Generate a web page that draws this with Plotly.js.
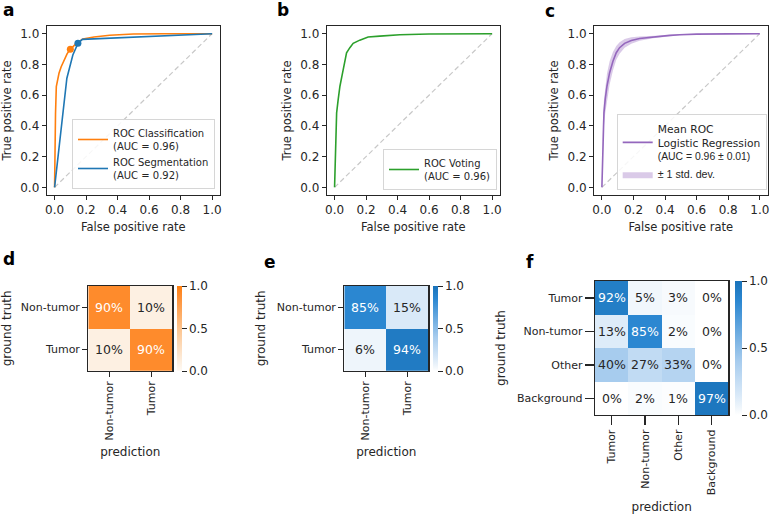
<!DOCTYPE html>
<html>
<head>
<meta charset="utf-8">
<script src="https://cdn.plot.ly/plotly-3.0.1.min.js"></script>
<style>
  html, body { margin: 0; padding: 0; background: #fff; }
  #fig { width: 777px; height: 515px; }
</style>
</head>
<body>
<div id="fig"></div>
<script>
// ROC curves
const clsFpr = [0, 0.003, 0.006, 0.011, 0.02, 0.028, 0.042, 0.064, 0.08, 0.1, 0.12, 0.138, 0.18, 0.25, 0.35, 0.5, 0.7, 1.0];
const clsTpr = [0, 0.35, 0.48, 0.655, 0.71, 0.742, 0.785, 0.84, 0.87, 0.898, 0.92, 0.937, 0.966, 0.978, 0.99, 0.998, 1.0, 1.0];
const segFpr = [0, 0.078, 0.116, 0.148, 0.176, 1.0];
const segTpr = [0, 0.71, 0.861, 0.937, 0.963, 1.0];
const clsPoint = [0.1, 0.898];
const segPoint = [0.148, 0.937];

const voteFpr = [0, 0.002, 0.004, 0.006, 0.013, 0.023, 0.034, 0.051, 0.065, 0.076, 0.097, 0.118, 0.16, 0.213, 0.287, 0.414, 0.6, 0.8, 1];
const voteTpr = [0, 0.08, 0.18, 0.355, 0.485, 0.572, 0.658, 0.746, 0.81, 0.876, 0.909, 0.937, 0.958, 0.978, 0.984, 0.993, 0.998, 1, 1];

const lrFpr   = [0, 0.004, 0.007, 0.013, 0.021, 0.032, 0.049, 0.07, 0.091, 0.112, 0.144, 0.186, 0.239, 0.324, 0.429, 0.493, 0.6, 0.8, 1];
const lrTpr   = [0, 0.224, 0.376, 0.485, 0.572, 0.658, 0.746, 0.821, 0.876, 0.909, 0.937, 0.956, 0.969, 0.98, 0.989, 0.993, 0.997, 0.999, 1];
const lrUpper = [0, 0.30, 0.46, 0.57, 0.66, 0.74, 0.82, 0.88, 0.92, 0.945, 0.965, 0.977, 0.982, 0.987, 0.992, 0.995, 0.998, 0.999, 1];
const lrLower = [0, 0.15, 0.29, 0.40, 0.48, 0.57, 0.67, 0.76, 0.83, 0.87, 0.908, 0.934, 0.954, 0.971, 0.985, 0.990, 0.996, 0.998, 1];

const chance = [0, 1];
const rocTicks = [0, 0.2, 0.4, 0.6, 0.8, 1.0];

// confusion matrices
const binLabels = ["Non-tumor", "Tumor"];
const cmClassification = [[0.90, 0.10], [0.10, 0.90]];
const cmVoting = [[0.85, 0.15], [0.06, 0.94]];
const multiLabels = ["Tumor", "Non-tumor", "Other", "Background"];
const cmMulti = [
  [0.92, 0.05, 0.03, 0.00],
  [0.13, 0.85, 0.02, 0.00],
  [0.40, 0.27, 0.33, 0.00],
  [0.00, 0.02, 0.01, 0.97]
];
const cbTicks = [0, 0.5, 1];
const cbText = ["0.0", "0.5", "1.0"];

const W = 777, H = 515;
const FONT = "DejaVu Sans";
const INK = "#262626";
const px = (a, b) => [a / W, b / W];
const py = (top, bottom) => [1 - bottom / H, 1 - top / H];

const orangeScale = [[0, "#fffaf4"], [0.1, "#fdf0e2"], [0.5, "#fdc48e"], [0.9, "#fe8b2c"], [1, "#ff7f0e"]];
const blueScale = [[0, "#ffffff"], [0.06, "#eef5fb"], [0.15, "#d9e9f8"], [0.4, "#a7ccee"], [0.85, "#2b87d1"], [1, "#1a73ba"]];

function rocAxes(domX) {
  const common = {
    range: [-0.05, 1.05], tickvals: rocTicks, tickformat: ".1f",
    showline: true, mirror: true, linecolor: INK, linewidth: 1,
    ticks: "outside", ticklen: 4, tickwidth: 1, tickcolor: INK,
    showgrid: false, zeroline: false,
    tickfont: { family: FONT, size: 12, color: INK }
  };
  return {
    x: Object.assign({}, common, {
      domain: domX,
      title: { text: "False positive rate", font: { family: FONT, size: 11.5, color: INK }, standoff: 6 }
    }),
    y: Object.assign({}, common, {
      domain: py(26, 195),
      title: { text: "True positive rate", font: { family: FONT, size: 11.5, color: INK }, standoff: 6 }
    })
  };
}

function cmAxes(domX, domY, labels) {
  const common = {
    showline: true, mirror: true, linecolor: INK, linewidth: 1.2,
    ticks: "outside", ticklen: 5, tickwidth: 1, tickcolor: INK,
    showgrid: false, zeroline: false,
    tickfont: { family: FONT, size: 11, color: INK }
  };
  return {
    x: Object.assign({}, common, {
      domain: domX, tickangle: -90, categoryorder: "array", categoryarray: labels,
      title: { text: "prediction", font: { family: FONT, size: 12, color: INK }, standoff: 8 }
    }),
    y: Object.assign({}, common, {
      domain: domY, autorange: "reversed", categoryorder: "array", categoryarray: labels,
      title: { text: "ground truth", font: { family: FONT, size: 12, color: INK }, standoff: 8 }
    })
  };
}

function colorbar(xLeft, topPx, lenPx, thick) {
  return {
    x: xLeft / W, xanchor: "left", xpad: 0,
    y: 1 - topPx / H, yanchor: "top", ypad: 0,
    len: lenPx, lenmode: "pixels", thickness: thick, thicknessmode: "pixels",
    outlinewidth: 0, ticks: "outside", ticklen: 5, tickwidth: 1, tickcolor: INK,
    tickvals: cbTicks, ticktext: cbText,
    tickfont: { family: FONT, size: 12, color: INK }
  };
}

const traces = [];
const annotations = [];

function diag(xa, ya) {
  traces.push({
    x: chance, y: chance, xaxis: xa, yaxis: ya, mode: "lines", showlegend: false, hoverinfo: "skip",
    line: { color: "#c8c8c8", width: 1.2, dash: "5px,3px" }
  });
}

// panel a
diag("x", "y");
traces.push({ x: clsFpr, y: clsTpr, xaxis: "x", yaxis: "y", mode: "lines", legend: "legend",
  name: "ROC Classification<br>(AUC = 0.96)", line: { color: "#ff7f0e", width: 1.6 } });
traces.push({ x: segFpr, y: segTpr, xaxis: "x", yaxis: "y", mode: "lines", legend: "legend",
  name: "ROC Segmentation<br>(AUC = 0.92)", line: { color: "#1f77b4", width: 1.6 } });
traces.push({ x: [clsPoint[0]], y: [clsPoint[1]], xaxis: "x", yaxis: "y", mode: "markers", showlegend: false,
  marker: { color: "#ff7f0e", size: 7 } });
traces.push({ x: [segPoint[0]], y: [segPoint[1]], xaxis: "x", yaxis: "y", mode: "markers", showlegend: false,
  marker: { color: "#1f77b4", size: 7 } });

// panel b
diag("x2", "y2");
traces.push({ x: voteFpr, y: voteTpr, xaxis: "x2", yaxis: "y2", mode: "lines", legend: "legend2",
  name: "ROC Voting<br>(AUC = 0.96)", line: { color: "#2ca02c", width: 1.6 } });

// panel c
diag("x3", "y3");
traces.push({ x: lrFpr, y: lrLower, xaxis: "x3", yaxis: "y3", mode: "lines", showlegend: false,
  line: { width: 0, color: "rgba(148,103,189,0)" }, hoverinfo: "skip" });
traces.push({ x: lrFpr, y: lrUpper, xaxis: "x3", yaxis: "y3", mode: "lines", fill: "tonexty",
  fillcolor: "rgba(148,103,189,0.35)", line: { width: 0, color: "rgba(148,103,189,0)" },
  legend: "legend3", legendrank: 2,
  name: "<span style='font-family:Liberation Sans'>± 1 std. dev.</span>" });
traces.push({ x: lrFpr, y: lrTpr, xaxis: "x3", yaxis: "y3", mode: "lines", legend: "legend3", legendrank: 1,
  name: "Mean ROC<br>Logistic Regression<br><span style='font-family:Liberation Sans;font-size:10.4px'>(AUC = 0.96 ± 0.01)</span>",
  line: { color: "#9467bd", width: 1.6 } });

// confusion matrices
function cm(z, labels, xa, ya, scale, cb) {
  traces.push({ type: "heatmap", z: z, x: labels, y: labels, xaxis: xa, yaxis: ya,
    zmin: 0, zmax: 1, colorscale: scale, colorbar: cb, xgap: 0, ygap: 0, hoverinfo: "skip" });
  z.forEach((row, i) => row.forEach((v, j) => {
    annotations.push({ x: labels[j], y: labels[i], xref: xa, yref: ya, showarrow: false,
      text: Math.round(v * 100) + "%",
      font: { family: FONT, size: 12.5, color: v > 0.5 ? "#ffffff" : INK } });
  }));
}
cm(cmClassification, binLabels, "x4", "y4", orangeScale, colorbar(176.7, 286, 84.7, 5));
cm(cmVoting, binLabels, "x5", "y5", blueScale, colorbar(432.7, 286, 84.7, 5));
cm(cmMulti, multiLabels, "x6", "y6", blueScale, colorbar(735, 281, 134, 6.5));

// panel letters
[["a", 8, 10], ["b", 283, 10], ["c", 550, 11], ["d", 9, 259], ["e", 270, 262], ["f", 530, 262]].forEach(l => {
  annotations.push({ text: "<b>" + l[0] + "</b>", x: l[1] / W, y: 1 - l[2] / H, xref: "paper", yref: "paper",
    showarrow: false, xanchor: "center", yanchor: "middle",
    font: { family: FONT, size: 17, color: "#000" } });
});

const A = rocAxes(px(46.7, 220)), B = rocAxes(px(326.7, 500)), C = rocAxes(px(594, 767.7));
const D = cmAxes(px(88.3, 172.3), py(286, 370.7), binLabels);
const E = cmAxes(px(344.3, 428.3), py(286, 370.7), binLabels);
const F = cmAxes(px(595, 728.3), py(281, 415), multiLabels);
F.x.ticklen = 9; F.y.ticklen = 9; F.x.tickwidth = 1.5; F.y.tickwidth = 1.5;

const legendStyle = (xr, yb, size) => ({
  x: xr / W, xanchor: "right", y: 1 - yb / H, yanchor: "bottom",
  bgcolor: "rgba(255,255,255,0.85)", bordercolor: "#d6d6d6", borderwidth: 1,
  font: { family: FONT, size: size, color: INK }, traceorder: "normal"
});

const layout = {
  width: W, height: H,
  margin: { l: 0, r: 0, t: 0, b: 0, autoexpand: false },
  paper_bgcolor: "#fff", plot_bgcolor: "#fff",
  font: { family: FONT, color: INK },
  showlegend: true,
  legend: legendStyle(215, 189, 10),
  legend2: legendStyle(497, 190, 10),
  legend3: legendStyle(766.7, 190, 10.7),
  xaxis: Object.assign(A.x, { anchor: "y" }), yaxis: Object.assign(A.y, { anchor: "x" }),
  xaxis2: Object.assign(B.x, { anchor: "y2" }), yaxis2: Object.assign(B.y, { anchor: "x2" }),
  xaxis3: Object.assign(C.x, { anchor: "y3" }), yaxis3: Object.assign(C.y, { anchor: "x3" }),
  xaxis4: Object.assign(D.x, { anchor: "y4" }), yaxis4: Object.assign(D.y, { anchor: "x4" }),
  xaxis5: Object.assign(E.x, { anchor: "y5" }), yaxis5: Object.assign(E.y, { anchor: "x5" }),
  xaxis6: Object.assign(F.x, { anchor: "y6" }), yaxis6: Object.assign(F.y, { anchor: "x6" }),
  annotations: annotations
};

Plotly.newPlot("fig", traces, layout, { displayModeBar: false, staticPlot: true });
</script>
</body>
</html>
